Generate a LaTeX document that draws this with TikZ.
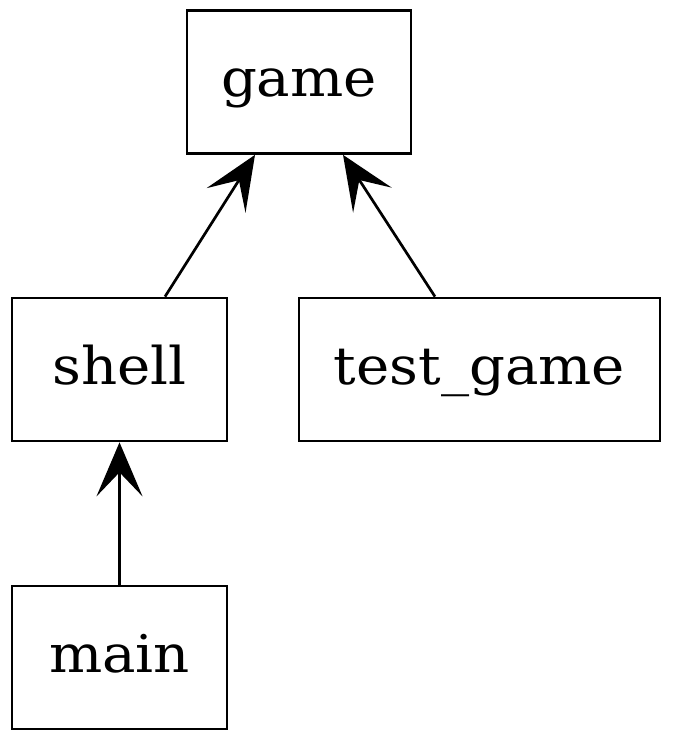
\documentclass[tikz,border=0pt]{standalone}
\usepackage{fontspec}
\setmainfont[FakeStretch=1.08]{DejaVu Serif}
\usetikzlibrary{arrows.meta,calc}
\begin{document}
\begin{tikzpicture}[x=1pt,y=-1pt,
  modbox/.style={draw=black,line width=2.7pt,fill=white,inner sep=0pt,
    minimum height=143pt,text height=42pt,text depth=12pt,
    font=\fontsize{52}{60}\selectfont},
  dep/.style={line width=2.7pt,-{Stealth[length=54pt,width=46pt,inset=24pt]}}]
\useasboundingbox (0,0) rectangle (672,743);
\node[modbox,minimum width=224pt] (game) at (299,82) {game};
\node[modbox,minimum width=215pt] (shell) at (119.5,369.5) {shell};
\node[modbox,minimum width=361pt] (test) at (479.5,369.5) {test\_game};
\node[modbox,minimum width=215pt] (main) at (119.5,657.5) {main};
\coordinate (s1) at ($(shell.north)+(45.5,0)$);
\coordinate (g1) at ($(game.south)+(-44,0)$);
\coordinate (t1) at ($(test.north)+(-44.5,0)$);
\coordinate (g2) at ($(game.south)+(44,0)$);
\draw[dep] (s1) -- (g1);
\draw[dep] (t1) -- (g2);
\draw[dep] (main.north) -- (shell.south);
\end{tikzpicture}
\end{document}
